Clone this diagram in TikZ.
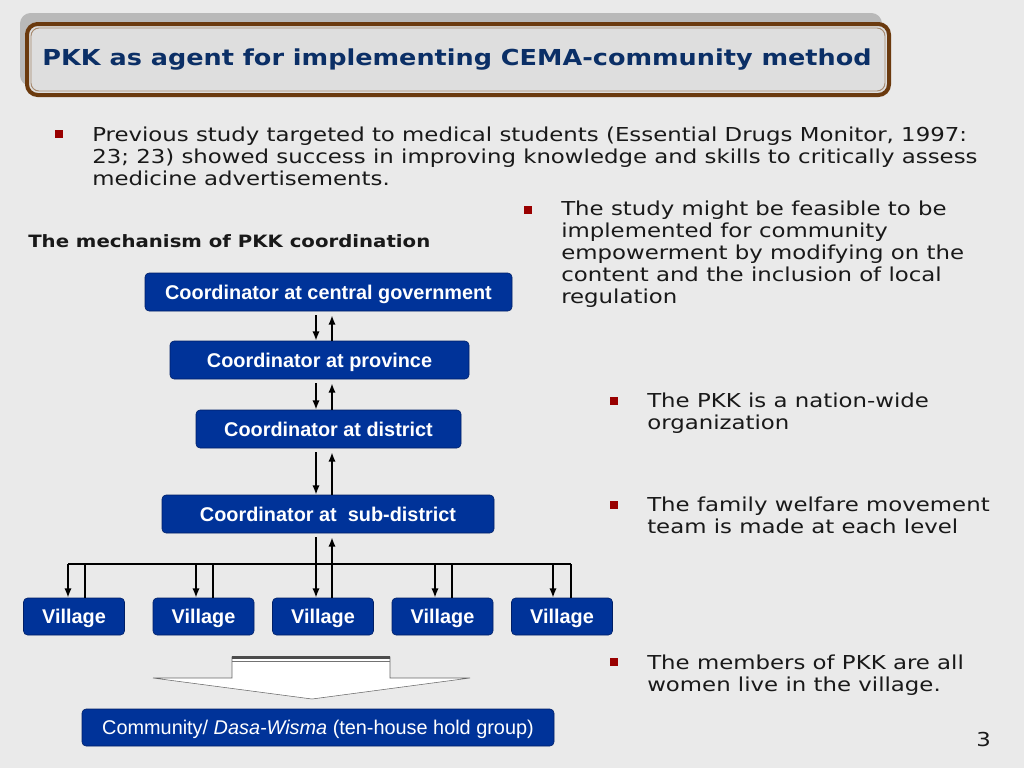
\documentclass[tikz,border=0pt]{standalone}
\usepackage{fontspec}
\setmainfont{DejaVu Sans}[FakeStretch=1.19,BoldFeatures={FakeStretch=1.16}]
\newfontfamily\arialfont{Liberation Sans}
\usetikzlibrary{arrows.meta,positioning}
\definecolor{slidebg}{HTML}{EAEAEA}
\definecolor{boxblue}{HTML}{003399}
\definecolor{boxedge}{HTML}{001F66}
\definecolor{titleblue}{HTML}{0B2F66}
\definecolor{titlebrown}{HTML}{6B3A0E}
\definecolor{bulletred}{HTML}{990000}
\newcommand{\bodysize}{\fontsize{14.4}{16.5}\selectfont}

\begin{document}
\begin{tikzpicture}[x=0.75pt,y=-0.75pt,>={Latex[length=7pt,width=5.5pt]},
coord/.style={draw=boxedge,fill=boxblue,rounded corners=3pt,text=white,inner sep=0pt,
  font=\arialfont\bfseries\fontsize{14.9}{17}\selectfont,minimum height=38*.75pt,text depth=0pt},
link/.style={line width=1.4pt},
bullet/.style={fill=bulletred,minimum size=6.5pt,inner sep=0pt},
body/.style={anchor=base west,inner sep=0pt,align=left,font=\bodysize,text=black!90}]
\fill[slidebg] (0,0) rectangle (1024,768);

% title frame
\fill[gray!55,rounded corners=8pt] (20,13) rectangle (882,86);
\draw[titlebrown,line width=3pt,fill=black!13,rounded corners=8pt] (27,24) rectangle (889,95);
\draw[titlebrown!60,line width=0.7pt,rounded corners=6pt] (31,28) rectangle (885,91);
\node[font=\bfseries\fontsize{16.5}{20}\selectfont,text=titleblue] (title) at (457,60)
  {PKK as agent for implementing CEMA-community method};

% bullets (base = last line)
\node[bullet] (b1) at (59,134) {};
\node[body] (t1) at (92,185) {Previous study targeted to medical students (Essential Drugs Monitor, 1997:\\
23; 23) showed success in improving knowledge and skills to critically assess\\
medicine advertisements.};
\node[bullet] (b2) at (528,210) {};
\node[body] (t2) at (561,303) {The study might be feasible to be\\
implemented for community\\
empowerment by modifying on the\\
content and the inclusion of local\\
regulation};
\node[bullet] (b3) at (614,401) {};
\node[body] (t3) at (647,429) {The PKK is a nation-wide\\organization};
\node[bullet] (b4) at (614,505) {};
\node[body] (t4) at (647,533) {The family welfare movement\\team is made at each level};
\node[bullet] (b5) at (614,662) {};
\node[body] (t5) at (647,691) {The members of PKK are all\\women live in the village.};
\node[body] (page) at (976,746) {3};

\node[body,font=\bfseries\fontsize{12.75}{16}\selectfont] (mech) at (28,247) {The mechanism of PKK coordination};

% coordinators
\node[coord,minimum width=367*.75pt] (central) at (328.5,292) {Coordinator at central government};
\node[coord,minimum width=299*.75pt] (prov) at (319.5,360) {Coordinator at province};
\node[coord,minimum width=265*.75pt] (dist) at (328.5,429) {Coordinator at district};
\node[coord,minimum width=332*.75pt] (subdist) at (328,514) {Coordinator at\ \ sub-district};
\foreach \i/\x in {1/74,2/203.5,3/323,4/442.5,5/562}
  \node[coord,minimum width=101*.75pt,minimum height=37*.75pt] (v\i) at (\x,616.5) {Village};
\node[coord,font=\arialfont\fontsize{14.9}{17}\selectfont,minimum width=472*.75pt,minimum height=37*.75pt]
  (comm) at (318,727.5) {Community/ \textit{Dasa-Wisma} (ten-house hold group)};

% up and down links
\coordinate (dn) at (316,0);
\coordinate (up) at (332,0);
\draw[->,link,shorten <=3pt] (central.south -| dn) -- (prov.north -| dn);
\draw[->,link,shorten >=3pt] (prov.north -| up) -- (central.south -| up);
\draw[->,link,shorten <=3pt] (prov.south -| dn) -- (dist.north -| dn);
\draw[->,link,shorten >=3pt] (dist.north -| up) -- (prov.south -| up);
\draw[->,link,shorten <=3pt] (dist.south -| dn) -- (subdist.north -| dn);
\draw[->,link,shorten >=3pt] (subdist.north -| up) -- (dist.south -| up);
\draw[->,link,shorten <=3pt] (subdist.south -| dn) -- (v3.north -| dn);
\draw[->,link,shorten >=3pt] (v3.north -| up) -- (subdist.south -| up);

% village bus
\coordinate (busl) at (68,564);
\coordinate (busr) at (571,564);
\draw[link] (busl) -- (busr);
\foreach \i/\d/\u in {1/68/85,2/196/213,4/435/452,5/553/571}{
  \draw[->,link] (\d,564) -- (v\i.north -| \d,0);
  \draw[link] (v\i.north -| \u,0) -- (\u,564);
}

% block arrow to community
\draw[fill=white,draw=black!60] (232,657) -- (390,657) -- (390,678) -- (470,678)
  -- (312,699) -- (153,678) -- (232,678) -- cycle;
\draw[line width=2pt,black!70] (232,657.5) -- (390,657.5);
\draw[black!55] (232,661) -- (390,661);
\end{tikzpicture}
\end{document}
